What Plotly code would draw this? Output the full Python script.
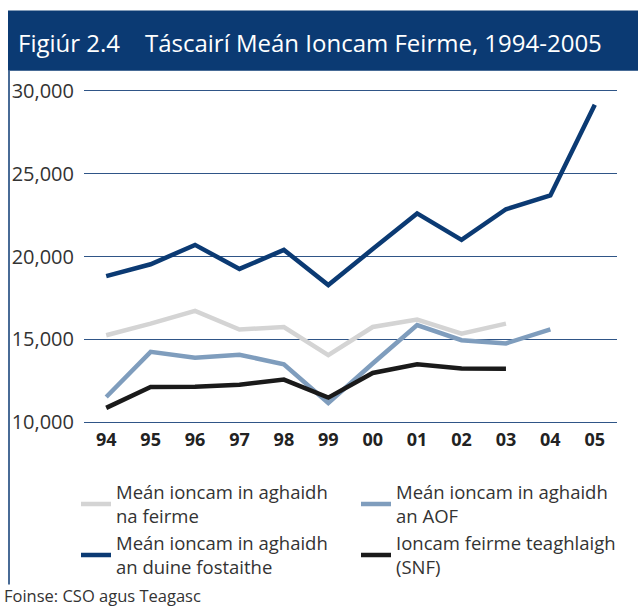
import plotly.graph_objects as go

years = ["94", "95", "96", "97", "98", "99", "00", "01", "02", "03", "04", "05"]
per_farm = [15250, 15950, 16720, 15600, 15750, 14050, 15750, 16200, 15350, 15950, None, None]
per_aof = [11530, 14250, 13900, 14080, 13500, 11170, 13550, 15860, 14950, 14760, 15600, None]
per_employee = [18820, 19530, 20700, 19250, 20400, 18280, 20450, 22600, 21000, 22850, 23680, 29150]
snf = [10870, 12130, 12140, 12270, 12580, 11490, 12980, 13500, 13240, 13230, None, None]

names = [
    "Meán ioncam in aghaidh<br>na feirme",
    "Meán ioncam in aghaidh<br>an AOF",
    "Meán ioncam in aghaidh<br>an duine fostaithe",
    "Ioncam feirme teaghlaigh<br>(SNF)",
]
colors = ["#d4d4d4", "#7f9dbd", "#0b3a73", "#1a1a1a"]
series = [per_farm, per_aof, per_employee, snf]

W, H = 638, 606
L, R, T, B = 84, 21, 89.3, 182.3
PW = W - L - R
PH = H - T - B

def px(x):
    return (x - L) / PW

def py(y):
    return (H - B - y) / PH

fig = go.Figure()
for name, col, vals in zip(names, colors, series):
    fig.add_trace(go.Scatter(x=years, y=vals, name=name, mode="lines",
                             line=dict(color=col, width=4.5)))

font = "Open Sans"
fig.update_layout(
    width=W, height=H,
    margin=dict(l=L, r=R, t=T, b=B, pad=0, autoexpand=False),
    paper_bgcolor="white", plot_bgcolor="white",
    font=dict(family=font, color="#333333"),
    showlegend=True,
    legend=dict(orientation="h", x=px(76), y=py(473), xanchor="left", yanchor="top",
                entrywidth=235, entrywidthmode="pixels",
                font=dict(size=18.5, color="#333333", family=font),
                tracegroupgap=0, itemwidth=30, bgcolor="rgba(0,0,0,0)"),
    xaxis=dict(type="category", range=[-0.5, 11.5], showgrid=False, zeroline=False,
               showline=False, ticks="", tickfont=dict(size=18, color="#222222", family=font),
               ticklabelstandoff=3, tickprefix="<b>", ticksuffix="</b>"),
    yaxis=dict(range=[9900, 30100], tickvals=[10000, 15000, 20000, 25000, 30000],
               ticktext=["10,000", "15,000", "20,000", "25,000", "30,000"],
               showgrid=True, gridcolor="#2f5587", gridwidth=1.2, zeroline=False,
               showline=False, ticks="", tickfont=dict(size=20, color="#333333", family=font),
               ticklabelstandoff=9),
)

fig.add_shape(type="rect", xref="paper", yref="paper",
              x0=px(8), x1=px(638), y0=py(71), y1=py(11),
              fillcolor="#0b3a73", line=dict(width=0), layer="below")
fig.add_shape(type="line", xref="paper", yref="paper",
              x0=px(9), x1=px(9), y0=py(71), y1=py(584),
              line=dict(color="#0b3a73", width=1.5))

fig.add_annotation(text="Figiúr 2.4    Táscairí Meán Ioncam Feirme, 1994-2005",
                   xref="paper", yref="paper", x=px(16), y=py(43),
                   xanchor="left", yanchor="middle", showarrow=False,
                   font=dict(size=24, color="white", family=font))
fig.add_annotation(text="Foinse: CSO agus Teagasc",
                   xref="paper", yref="paper", x=px(2), y=py(595),
                   xanchor="left", yanchor="middle", showarrow=False,
                   font=dict(size=16.5, color="#333333", family=font))

fig.write_html("out.html", config={"displayModeBar": False},
               post_script="document.body.style.margin='0px';")
